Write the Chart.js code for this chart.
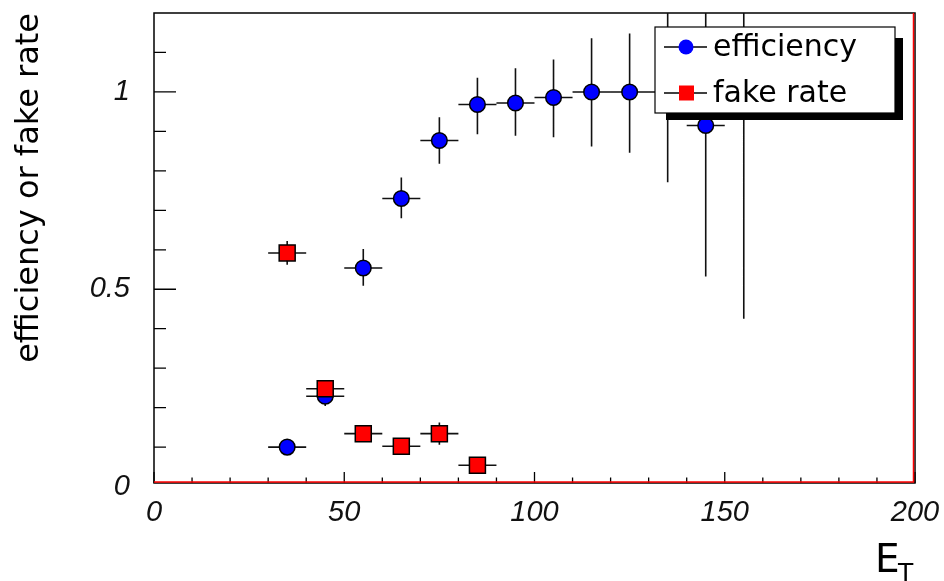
<!DOCTYPE html>
<html>
<head>
<meta charset="utf-8">
<script src="https://cdn.jsdelivr.net/npm/chart.js@4/dist/chart.umd.min.js"></script>
<style>
  html, body { margin: 0; padding: 0; background: #fff; }
</style>
</head>
<body>
<canvas id="myChart" width="944" height="581"></canvas>
<script>
// bin centres (E_T) and values
var binCenters  = [35, 45, 55, 65, 75, 85, 95, 105, 115, 125, 135, 145, 155];
var effValues   = [0.10, 0.229, 0.554, 0.730, 0.877, 0.968, 0.972, 0.986, 1.0, 1.0, 1.0, 0.915, 1.0];
var effErrLow   = [0.01, 0.025, 0.045, 0.050, 0.059, 0.075, 0.083, 0.101, 0.138, 0.154, 0.229, 0.383, 0.575];
var effErrHigh  = [0.01, 0.020, 0.048, 0.053, 0.059, 0.068, 0.088, 0.096, 0.136, 0.148, 0.229, 0.383, 0.575];

var fakeCenters = [35, 45, 55, 65, 75, 85];
var fakeValues  = [0.592, 0.248, 0.134, 0.102, 0.134, 0.054];
var fakeErr     = [0.030, 0.015, 0.012, 0.010, 0.028, 0.010];

var binHalfWidth = 5;

var xTickLabels = [0, 50, 100, 150, 200];
var yTickLabels = [0, 0.5, 1];

const toPoints = (xs, ys) => xs.map((x, i) => ({x: x, y: ys[i]}));

// ROOT style frame, inner ticks and the red histogram outline
const frameTicks = {
    id: 'frameTicks',
    beforeDatasetsDraw(chart){
        const {ctx, chartArea: a, scales: {x, y}} = chart;
        ctx.save();
        ctx.strokeStyle = '#000';
        ctx.lineWidth = 1.5;
        ctx.strokeRect(a.left, a.top, a.right - a.left, a.bottom - a.top);

        ctx.lineWidth = 1.3;
        ctx.beginPath();
        for(let v = 0; v <= 200; v += 10){
            let px = x.getPixelForValue(v);
            let len = (v % 50 == 0) ? 11 : 5.5;
            ctx.moveTo(px, a.bottom);
            ctx.lineTo(px, a.bottom - len);
        }
        for(let k = 1; k <= 11; k++){
            let v = k / 10;
            let py = y.getPixelForValue(v);
            let len = (k % 5 == 0) ? 22 : 12;
            ctx.moveTo(a.left, py);
            ctx.lineTo(a.left + len, py);
        }
        ctx.stroke();

        ctx.strokeStyle = '#ff0000';
        ctx.lineWidth = 1.5;
        ctx.beginPath();
        ctx.moveTo(a.left, a.bottom - 1);
        ctx.lineTo(a.right - 1.5, a.bottom - 1);
        ctx.lineTo(a.right - 1.5, a.top);
        ctx.stroke();
        ctx.restore();
    },
    afterDraw(chart){
        const {ctx, chartArea: a} = chart;
        ctx.save();
        // axis title E_T
        ctx.fillStyle = '#000';
        ctx.textBaseline = 'alphabetic';
        ctx.font = '39px "DejaVu Sans"';
        ctx.fillText('E', 875, 572);
        ctx.font = '25px "DejaVu Sans"';
        ctx.fillText('T', 898, 581);
        ctx.restore();
    }
};

// vertical and horizontal error bars, drawn under each dataset's markers
const errorBars = {
    id: 'errorBars',
    beforeDatasetDraw(chart, args){
        const ds = chart.data.datasets[args.index];
        if(!ds.errLow) return;
        const {ctx, chartArea: a, scales: {x, y}} = chart;
        ctx.save();
        ctx.beginPath();
        ctx.rect(a.left, a.top, a.right - a.left, a.bottom - a.top);
        ctx.clip();
        ctx.strokeStyle = '#111';
        ctx.lineWidth = 1.6;
        ctx.beginPath();
        ds.data.forEach((p, i) => {
            let px = x.getPixelForValue(p.x);
            let py = y.getPixelForValue(p.y);
            ctx.moveTo(x.getPixelForValue(p.x - binHalfWidth), py);
            ctx.lineTo(x.getPixelForValue(p.x + binHalfWidth), py);
            ctx.moveTo(px, y.getPixelForValue(p.y - ds.errLow[i]));
            ctx.lineTo(px, y.getPixelForValue(p.y + ds.errHigh[i]));
        });
        ctx.stroke();
        ctx.restore();
    }
};

// legend box with shadow, like ROOT's TLegend
const rootLegend = {
    id: 'rootLegend',
    afterDraw(chart){
        const ctx = chart.ctx;
        const boxX = 655, boxY = 27, boxW = 240, boxH = 86;
        ctx.save();
        ctx.fillStyle = '#000';
        ctx.fillRect(666, 38, 237, 82);
        ctx.fillStyle = '#fff';
        ctx.fillRect(boxX, boxY, boxW, boxH);
        ctx.strokeStyle = '#000';
        ctx.lineWidth = 1.2;
        ctx.strokeRect(boxX, boxY, boxW, boxH);

        let entries = [chart.data.datasets[1], chart.data.datasets[0]];
        let rows = [47, 93];
        entries.forEach((ds, i) => {
            let cy = rows[i];
            ctx.strokeStyle = '#000';
            ctx.lineWidth = 1.5;
            ctx.beginPath();
            ctx.moveTo(664, cy);
            ctx.lineTo(707, cy);
            ctx.stroke();
            ctx.fillStyle = ds.backgroundColor;
            if(ds.pointStyle == 'rect'){
                ctx.fillRect(679, cy - 7.5, 15, 15);
            }else{
                ctx.beginPath();
                ctx.arc(686, cy, 7.5, 0, Math.PI * 2);
                ctx.fill();
            }
            ctx.fillStyle = '#000';
            ctx.font = '30px "DejaVu Sans"';
            ctx.textBaseline = 'alphabetic';
            ctx.fillText(ds.label, 713, cy + 8.5);
        });
        ctx.restore();
    }
};

// keep the frame where the reference has it, whatever the labels want
const noOverflow = s => {
    s.paddingTop = 0;
    s.paddingBottom = 0;
    s.paddingLeft = 0;
    s.paddingRight = 0;
};

window.addEventListener('DOMContentLoaded', (event) => {

    let info = {
        datasets: [{
            label: 'fake rate',
            data: toPoints(fakeCenters, fakeValues),
            errLow: fakeErr,
            errHigh: fakeErr,
            backgroundColor: '#ff0000',
            borderColor: '#000',
            borderWidth: 1.5,
            pointStyle: 'rect',
            pointRadius: 11.3,
            pointHoverRadius: 11.3,
            showLine: false,
            order: 1
        }, {
            label: 'efficiency',
            data: toPoints(binCenters, effValues),
            errLow: effErrLow,
            errHigh: effErrHigh,
            backgroundColor: '#0000ff',
            borderColor: '#000',
            borderWidth: 1.5,
            pointStyle: 'circle',
            pointRadius: 7.8,
            pointHoverRadius: 7.8,
            showLine: false,
            order: 2
        }]
    };

    let tickFont = {family: 'Liberation Sans', style: 'italic', size: 29};

    let config = {
        type: 'scatter',
        data: info,
        options: {
            responsive: false,
            animation: false,
            devicePixelRatio: 1,
            layout: {padding: {top: 13, right: 29, left: 0, bottom: 0}},
            plugins: {
                legend: {display: false},
                tooltip: {enabled: false}
            },
            scales: {
                x: {
                    type: 'linear',
                    min: 0,
                    max: 200,
                    afterBuildTicks: s => { s.ticks = xTickLabels.map(v => ({value: v})); },
                    afterFit: s => { s.height = 98; noOverflow(s); },
                    grid: {display: false, drawTicks: false},
                    border: {display: false},
                    ticks: {font: tickFont, color: '#111', padding: 13, maxRotation: 0, autoSkip: false,
                            callback: v => String(v)}
                },
                y: {
                    type: 'linear',
                    min: 0.009,
                    max: 1.2,
                    afterBuildTicks: s => { s.ticks = yTickLabels.map(v => ({value: v})); },
                    afterFit: s => { s.width = 154; noOverflow(s); },
                    grid: {display: false, drawTicks: false},
                    border: {display: false},
                    ticks: {font: tickFont, color: '#111', padding: 24, autoSkip: false,
                            callback: v => String(v)},
                    title: {
                        display: true,
                        text: 'efficiency or fake rate',
                        align: 'end',
                        color: '#000',
                        font: {family: 'DejaVu Sans', size: 32},
                        padding: {top: 10, bottom: 0}
                    }
                }
            }
        },
        plugins: [frameTicks, errorBars, rootLegend]
    };

    myChart = new Chart(document.getElementById('myChart'), config);
});
</script>
</body>
</html>
